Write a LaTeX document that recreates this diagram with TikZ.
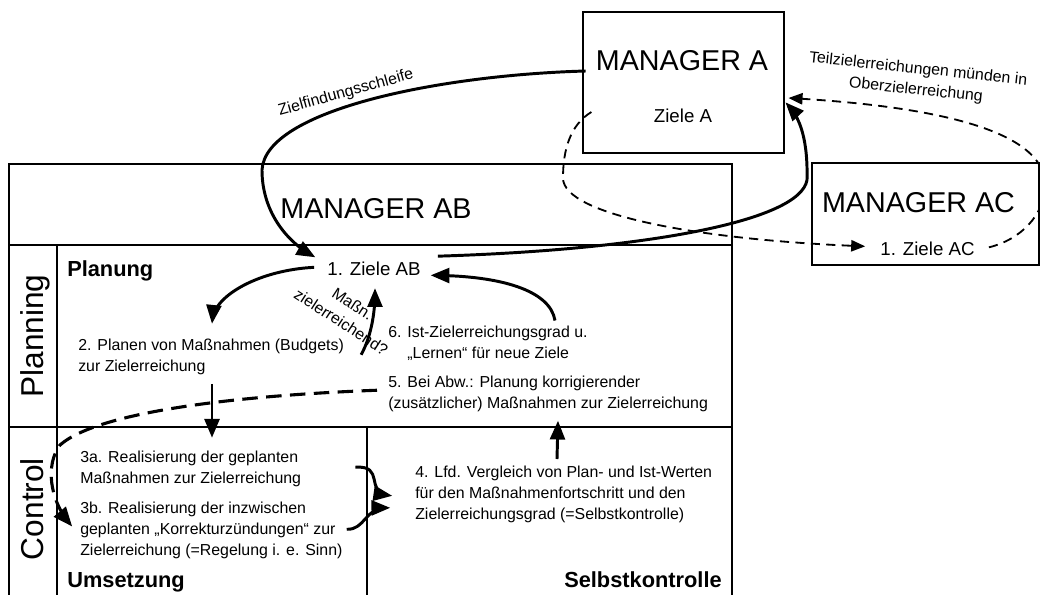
\documentclass[tikz,border=0pt]{standalone}
\usepackage{fontspec}
\setmainfont{Liberation Sans}
\usetikzlibrary{arrows,calc}
\tikzset{
    frame/.style = {draw, line width=0.8pt},
    box/.style = {draw, rectangle, line width=0.8pt},
    mgr/.style = {font=\fontsize{20.4}{24}\selectfont, inner sep=0pt, anchor=base},
    ziel/.style = {font=\fontsize{13.3}{16}\selectfont, inner sep=0pt, anchor=base},
    lane/.style = {font=\fontsize{22.5}{26}\selectfont, inner sep=0pt, anchor=base, rotate=90},
    phase/.style = {font=\fontsize{15.5}{18}\selectfont\bfseries, inner sep=0pt},
    txt/.style = {font=\fontsize{11.3}{15}\selectfont, align=left, inner sep=0pt, anchor=north west},
    note/.style = {font=\fontsize{11.3}{15}\selectfont, align=center, inner sep=0pt},
    flow/.style = {->, line width=2.1pt},
    flowdash/.style = {->, line width=2.2pt, dash pattern=on 11pt off 6pt},
    flowthin/.style = {->, line width=1.3pt, dash pattern=on 6.5pt off 4.5pt},
}

\begin{document}
\begin{tikzpicture}[x=0.025cm, y=-0.025cm, >=triangle 45]
    \useasboundingbox (0,0) rectangle (1040,594);

    % frame of manager AB
    \draw [frame] (9,600) -- (9,164) -- (732,164) -- (732,600);
    \draw [frame] (9,245) -- (732,245);
    \draw [frame] (9,427) -- (732,427);
    \draw [frame] (57,245) -- (57,600);
    \draw [frame] (367,427) -- (367,600);

    % the other two managers
    \node [box, minimum width=5.025cm, minimum height=3.525cm] (manA) at (683.5,82.5) {};
    \node [box, minimum width=5.675cm, minimum height=2.55cm] (manAC) at (925.5,214) {};

    \node [mgr] (manAtxt) at (682,70) {MANAGER A};
    \node [mgr] (manABtxt) at (376,218) {MANAGER AB};
    \node [mgr] (manACtxt) at (918.5,212) {MANAGER AC};
    \node [ziel] (zielA) at (683,122) {Ziele A};
    \node [ziel] (zielAB) at (374,275) {1. Ziele AB};
    \node [ziel] (zielAC) at (927.5,255) {1. Ziele AC};

    % rows and fields
    \node [lane] (planning) at (43,336) {Planning};
    \node [lane] (control) at (43,509) {Control};
    \node [phase, anchor=base west] (planung) at (67,276) {Planung};
    \node [phase, anchor=base west] (umsetzung) at (67,587) {Umsetzung};
    \node [phase, anchor=base east] (selbst) at (722,587) {Selbstkontrolle};

    \node [txt] (planen) at (78,338.5) {2. Planen von Maßnahmen (Budgets)\\zur Zielerreichung};
    \node [txt] (ist) at (388,325.5) {6. Ist-Zielerreichungsgrad u.\\\phantom{6. }„Lernen“ für neue Ziele};
    \node [txt] (abw) at (388,375.5) {5. Bei Abw.: Planung korrigierender\\(zusätzlicher) Maßnahmen zur Zielerreichung};
    \node [txt] (real3a) at (80,450.5) {3a. Realisierung der geplanten\\Maßnahmen zur Zielerreichung};
    \node [txt] (real3b) at (80,501.5) {3b. Realisierung der inzwischen\\geplanten „Korrekturzündungen“ zur\\Zielerreichung (=Regelung i. e. Sinn)};
    \node [txt] (vergleich) at (415,465.5) {4. Lfd. Vergleich von Plan- und Ist-Werten\\für den Maßnahmenfortschritt und den\\Zielerreichungsgrad (=Selbstkontrolle)};

    % labels on the loops
    \node [note, anchor=base, rotate=15.5] (zfs) at (347,97) {Zielfindungsschleife};
    \node [note, rotate=-6] (tzr) at (917,80) {Teilzielerreichungen münden in\\Oberzielerreichung};
    \node [note, rotate=-33] (mzr) at (347,313) {Maßn.\\zielerreichend?};

    %% loops between the managers
    \draw [flow] ($(manAtxt.base west)+(-10,1)$) .. controls (440,75) and (265,110) .. (262,170)
        .. controls (262,210) and (285,240) .. ($(zielAB.north west)+(-12,-4)$);
    \draw [flow] ($(zielAB.north east)+(17,-5)$) .. controls (640,250) and (800,222) .. (807,180)
        .. controls (808,140) and (800,118) .. ($(manA.east)+(1,20)$);
    \draw [flowthin] ($(manA.west)+(9,29.5)$) .. controls (570,125) and (563,150) .. (563,178)
        .. controls (563,215) and (700,240) .. ($(zielAC.west)+(-15,-2)$);
    \draw [flowthin] ($(zielAC.east)+(14,-1)$) .. controls (1020,240) and (1045,215) .. (1045,185)
        .. controls (1045,150) and (1000,110) .. ($(manA.east)+(4,15.5)$);

    %% planning and control cycle
    \draw [flow] ($(zielAB.west)+(-13,-1)$) .. controls (260,270) and (215,295) .. ($(planen.north west)+(134,-15)$);
    \draw [flow] ($(planen.east)+(17,-2)$) .. controls (372,335) and (375,310) .. ($(zielAB.south)+(1,13)$);
    \draw [flow] ($(ist.north west)+(167,-5)$) .. controls (550,290) and (500,276) .. ($(zielAB.east)+(10,7)$);
    \draw [flow] ($(planen.south west)+(134,9)$) -- ($(real3a.north west)+(132,-13)$);
    \draw [flow] ($(vergleich.north west)+(142,-6.5)$) -- ($(abw.south west)+(170,9)$);
    \draw [flow] ($(real3a.east)+(54,-1.5)$) .. controls (385,465) and (365,492) .. ($(vergleich.west)+(-23,1.5)$);
    \draw [flow] ($(real3b.east)+(4,-1)$) .. controls (365,530) and (365,508) .. ($(vergleich.west)+(-25,13.5)$);
    \draw [flowdash] ($(abw.west)+(-11,-3.5)$) .. controls (250,395) and (100,410) .. (60,445)
        .. controls (45,465) and (50,500) .. ($(real3b.west)+(-8,-4)$);
\end{tikzpicture}
\end{document}
